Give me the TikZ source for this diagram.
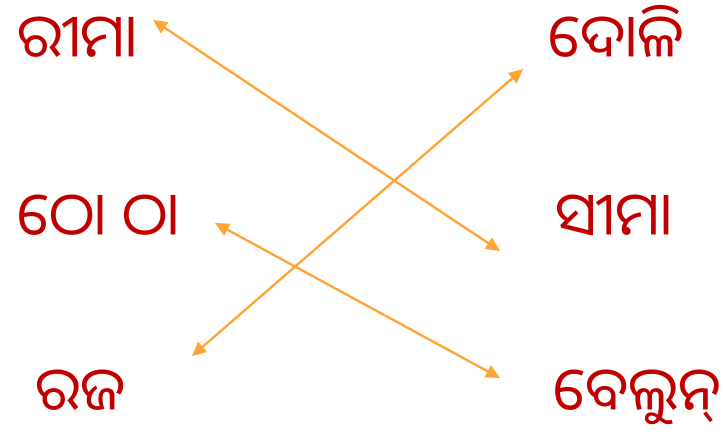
\documentclass[tikz,border=0pt]{standalone}
\usepackage{fontspec}
\newfontfamily\odia[Script=Oriya]{Noto Sans Oriya UI}
\usetikzlibrary{arrows.meta}
\definecolor{wordred}{HTML}{C00000}
\definecolor{arrorange}{HTML}{FFA535}
\tikzset{
  word/.style={anchor=base west, inner sep=0pt, text=wordred, font=\odia\fontsize{60}{60}\selectfont},
  link/.style={draw=arrorange, line width=2.3pt, {Triangle[length=14pt,width=13pt]}-{Triangle[length=14pt,width=13pt]}}
}
\begin{document}
\begin{tikzpicture}[x=1pt,y=-1pt]
\useasboundingbox (0,0) rectangle (725,434);
\node[word] (w1) at (17,62) {ରୀମା};
\node[word] (w2) at (17,240) {ଠୋ ଠା};
\node[word] (w3) at (35,415) {ରଜ};
\node[word] (w4) at (548,62) {ଦୋଳି};
\node[word] (w5) at (555,240) {ସୀମା};
\node[word] (w6) at (553,415) {ବେଲୁନ୍};
\coordinate (a1) at (153,20);
\coordinate (b1) at (500,251);
\coordinate (a2) at (523,69);
\coordinate (b2) at (192,356);
\coordinate (a3) at (215,223);
\coordinate (b3) at (500,378);
\draw[link] (a1) -- (b1);
\draw[link] (a2) -- (b2);
\draw[link] (a3) -- (b3);
\end{tikzpicture}
\end{document}
